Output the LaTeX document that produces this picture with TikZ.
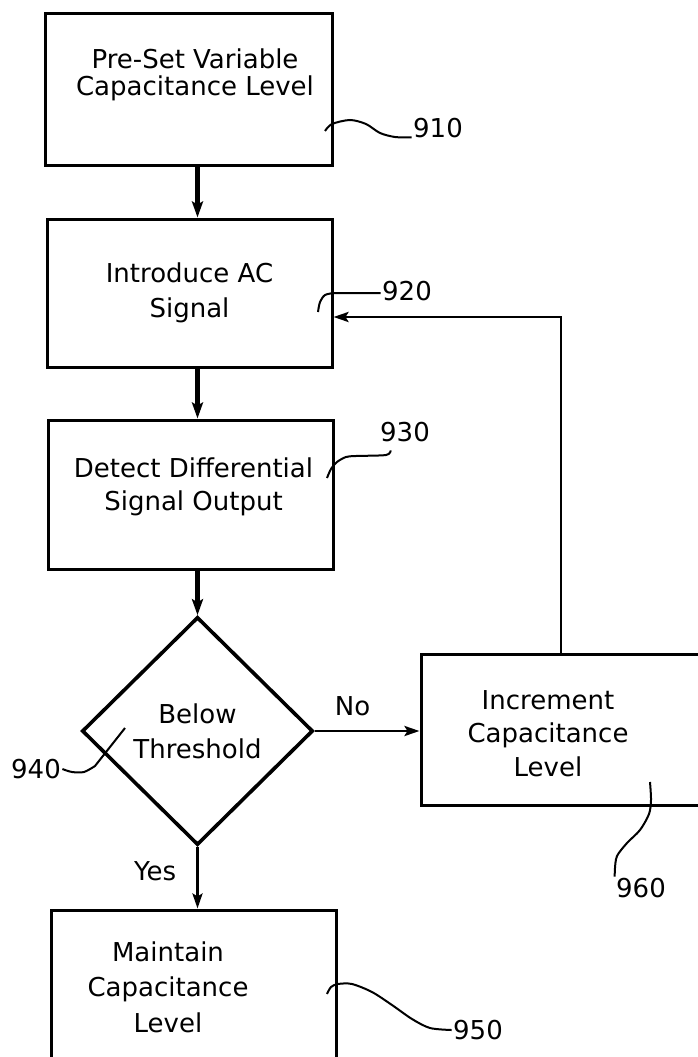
\documentclass[tikz,border=0pt]{standalone}
\usepackage{fontspec}
\setmainfont{DejaVu Sans}
\usetikzlibrary{shapes.geometric,arrows.meta}

\tikzset{every picture/.style={line width=1.2pt}}
\tikzset{
  stepbox/.style={draw,rectangle,line width=3pt,inner sep=0pt,align=center,font=\fontsize{26}{33}\selectfont},
  steptext/.style={inner sep=0pt,align=center,font=\fontsize{26}{33}\selectfont},
  decide/.style={draw,diamond,line width=3.6pt,inner sep=0pt,align=center,font=\fontsize{26}{35}\selectfont},
  flow/.style={-{Stealth[length=16pt,width=11pt,inset=3pt]},line width=4.2pt},
  thinflow/.style={-{Stealth[length=15pt,width=10pt,inset=3pt]},line width=2.8pt},
  leader/.style={line width=2pt},
  refnum/.style={inner sep=1pt,font=\fontsize{26}{30}\selectfont}
}

\begin{document}
\begin{tikzpicture}[x=1pt,y=-1pt]
\useasboundingbox (0,0) rectangle (697,1057);
% steps
\node[stepbox,minimum width=287pt,minimum height=151pt] (preset) at (188.5,89.5) {};
\node[steptext,font=\fontsize{26}{27}\selectfont] (presettxt) at (195,75) {Pre-Set Variable\\Capacitance Level};
\node[stepbox,minimum width=285pt,minimum height=148pt,font=\fontsize{26}{35}\selectfont] (intro) at (189.5,293) {Introduce AC\\Signal};
\node[stepbox,minimum width=285pt,minimum height=149pt] (detect) at (190.5,494.5) {};
\node[steptext] (detecttxt) at (193.5,486.5) {Detect Differential\\Signal Output};
\node[decide,minimum width=231pt,minimum height=228pt] (dec) at (197.5,731) {Below\\Threshold};
\node[stepbox,minimum width=280pt,minimum height=151pt] (incr) at (561,729.5) {};
\node[steptext,font=\fontsize{26}{33.5}\selectfont] (incrtxt) at (548,733.5) {Increment\\Capacitance\\Level};
\node[stepbox,minimum width=285pt,minimum height=160pt] (keep) at (193.5,990) {};
\node[steptext,font=\fontsize{26}{35.5}\selectfont] (keeptxt) at (168,987) {Maintain\\Capacitance\\Level};

% flow
\draw[flow] (preset.south -| dec) -- (intro.north -| dec);
\draw[flow] (intro.south -| dec) -- (detect.north -| dec);
\draw[flow] (detect.south -| dec) -- (dec.north);
\draw[thinflow] (dec.south) -- (keep.north -| dec) node[refnum,pos=0.4,left=19pt] (yes) {Yes};
\draw[thinflow] (dec.east) -- (dec.east -| incr.west) node[refnum,pos=0.36,above=13pt] (no) {No};
\draw[thinflow] (incr.north) |- ([yshift=-24pt]intro.east);

% reference numbers
\node[refnum] (n910) at (438,128) {910};
\node[refnum] (n920) at (407,291) {920};
\node[refnum] (n930) at (405,432) {930};
\node[refnum] (n940) at (36,769) {940};
\node[refnum] (n950) at (478,1030) {950};
\node[refnum] (n960) at (641,888) {960};
\draw[leader] plot[smooth] coordinates {(325,131) (332,124) (350,120) (366,124) (380,133) (395,137) (n910.base west)};
\draw[leader] plot[smooth] coordinates {(318,312) (320,302) (325,295) (334,293)} -- ([yshift=-2pt]n920.west);
\draw[leader] plot[smooth] coordinates {(327,478) (331,469) (337,462) (346,457) (356,456) (386,455) ([shift={(12pt,-7pt)}]n930.south west)};
\draw[leader] plot[smooth] coordinates {(n940.east) (72,772) (84,772) (95,766)} -- (125,728);
\draw[leader] plot[smooth] coordinates {(327,994) (331,987) (338,984) (352,984) (372,992) (392,1005) (412,1019) (430,1028) (n950.west)};
\draw[leader] plot[smooth] coordinates {(650,782) (651,800) (649,814) (640,830) (627,843) (617,856) (615,868)} -- (n960.north west);
\end{tikzpicture}
\end{document}
